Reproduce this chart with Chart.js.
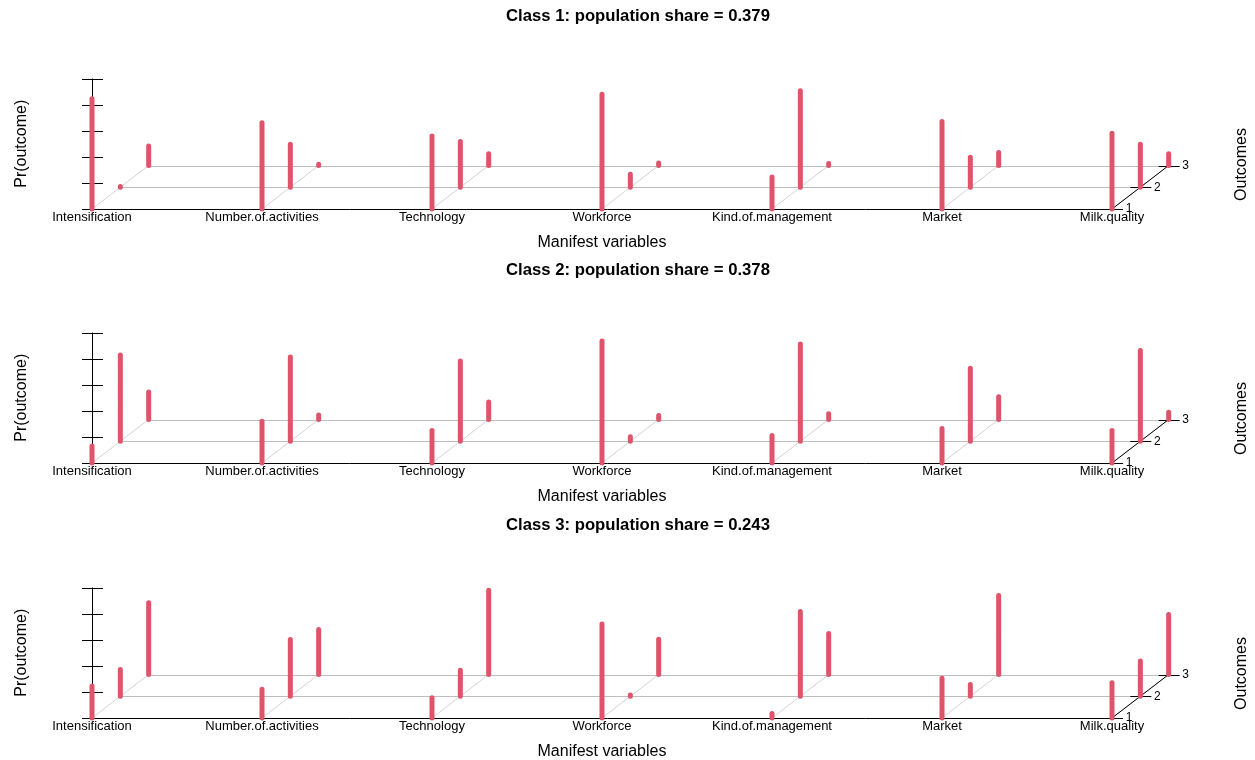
<!DOCTYPE html>
<html>
<head>
<meta charset="utf-8">
<title>Class-conditional outcome probabilities</title>
<script src="https://cdn.jsdelivr.net/npm/chart.js@4/dist/chart.umd.min.js"></script>
<style>
  body { margin: 0; background: #fff; overflow: hidden; }
  canvas.panel { position: absolute; left: 0; }
</style>
</head>
<body>
<canvas id="class1" class="panel" width="1255" height="254" style="top:0px"></canvas>
<canvas id="class2" class="panel" width="1255" height="254" style="top:254px"></canvas>
<canvas id="class3" class="panel" width="1255" height="254" style="top:509px"></canvas>
<script>
const variables = ["Intensification", "Number.of.activities", "Technology", "Workforce",
  "Kind.of.management", "Market", "Milk.quality"];
const outcomes = ["1", "2", "3"];
const shares = ["0.379", "0.378", "0.243"];
const prTicks = [0, 0.2, 0.4, 0.6, 0.8, 1];

// Pr(outcome = 1, 2, 3) for each manifest variable
const class1 = [[0.845, 0.005, 0.15], [0.66, 0.33, 0.01], [0.56, 0.35, 0.09], [0.88, 0.10, 0.02],
  [0.245, 0.74, 0.015], [0.67, 0.23, 0.10], [0.58, 0.33, 0.09]];
const class2 = [[0.13, 0.66, 0.21], [0.32, 0.645, 0.035], [0.25, 0.615, 0.135], [0.935, 0.035, 0.03],
  [0.21, 0.745, 0.045], [0.265, 0.56, 0.175], [0.25, 0.695, 0.055]];
const class3 = [[0.245, 0.205, 0.55], [0.22, 0.435, 0.345], [0.155, 0.2, 0.645], [0.72, 0.01, 0.27],
  [0.035, 0.65, 0.315], [0.305, 0.09, 0.605], [0.27, 0.27, 0.46]];

const depth = 1 / 6; // offset of each outcome row, in axis units
const font = "'Liberation Sans', Arial, sans-serif";
Chart.defaults.font.family = font;

function crisp(v) {
  return Math.round(v) + 0.5;
}

function seg(ctx, x1, y1, x2, y2) {
  ctx.beginPath();
  ctx.moveTo(x1, y1);
  ctx.lineTo(x2, y2);
  ctx.stroke();
}

const frame3d = {
  id: "frame3d",
  beforeDatasetsDraw(chart) {
    const { ctx } = chart;
    const px = (v) => chart.scales.x.getPixelForValue(v);
    const py = (v) => chart.scales.y.getPixelForValue(v);
    const last = variables.length - 1;
    const top = outcomes.length - 1;
    ctx.save();
    ctx.lineWidth = 1;

    ctx.strokeStyle = "#BEBEBE";
    for (let k = 1; k < outcomes.length; k++) {
      seg(ctx, px(k * depth), crisp(py(k * depth)), px(last + k * depth), crisp(py(k * depth)));
    }
    ctx.strokeStyle = "#D3D3D3";
    variables.forEach((v, i) => seg(ctx, px(i), py(0), px(i + top * depth), py(top * depth)));

    ctx.strokeStyle = "#000";
    seg(ctx, px(0), crisp(py(0)), px(last) + 11, crisp(py(0)));
    seg(ctx, crisp(px(0)), py(0), crisp(px(0)), py(1));
    prTicks.forEach((t) => seg(ctx, px(0) - 10, crisp(py(t)), px(0) + 11, crisp(py(t))));
    seg(ctx, px(last), py(0), px(last + top * depth), py(top * depth));
    outcomes.forEach((o, k) => {
      const ox = px(last + k * depth);
      const oy = crisp(py(k * depth));
      seg(ctx, ox - 10, oy, ox + 11, oy);
    });
    ctx.restore();
  },
  afterDraw(chart, args, opts) {
    const { ctx } = chart;
    const px = (v) => chart.scales.x.getPixelForValue(v);
    const py = (v) => chart.scales.y.getPixelForValue(v);
    const last = variables.length - 1;
    ctx.save();
    ctx.fillStyle = "#000";

    ctx.font = "bold 16.7px " + font;
    ctx.textAlign = "center";
    ctx.textBaseline = "alphabetic";
    ctx.fillText(opts.title, 638, 21);

    ctx.font = "13px " + font;
    variables.forEach((v, i) => ctx.fillText(v, px(i), py(0) + 12));

    ctx.font = "12px " + font;
    ctx.textBaseline = "middle";
    outcomes.forEach((o, k) => ctx.fillText(o, px(last + k * depth) + 17, py(k * depth)));

    ctx.font = "16px " + font;
    ctx.textBaseline = "alphabetic";
    ctx.fillText("Manifest variables", 602, py(0) + 37.5);

    ctx.translate(25.5, (py(0) + py(1)) / 2);
    ctx.rotate(-Math.PI / 2);
    ctx.fillText("Pr(outcome)", 0, 0);
    ctx.restore();

    ctx.save();
    ctx.font = "16px " + font;
    ctx.fillStyle = "#000";
    ctx.textAlign = "center";
    ctx.translate(1245.5, py(2 * depth) - 1);
    ctx.rotate(-Math.PI / 2);
    ctx.fillText("Outcomes", 0, 0);
    ctx.restore();
  },
};

function drawClass(canvasId, classNo, probs) {
  const points = [];
  probs.forEach((row, i) => {
    row.forEach((p, k) => {
      const x = i + k * depth;
      points.push({ x: x, y: k * depth });
      points.push({ x: x, y: k * depth + p });
      points.push({ x: x, y: null });
    });
  });

  new Chart(document.getElementById(canvasId), {
    type: "line",
    data: {
      datasets: [
        {
          label: "Pr(outcome)",
          data: points,
          borderColor: "#DF536B",
          borderWidth: 5,
          borderCapStyle: "round",
          pointRadius: 0,
          spanGaps: false,
          tension: 0,
          clip: false,
        },
      ],
    },
    options: {
      responsive: false,
      animation: false,
      layout: { padding: { top: 39.35, bottom: 45, left: 24, right: 41 } },
      scales: {
        x: { type: "linear", display: false, min: -0.4, max: 6.6 },
        y: { type: "linear", display: false, min: 0, max: 1.3 },
      },
      plugins: {
        legend: { display: false },
        tooltip: { enabled: false },
        frame3d: { title: "Class " + classNo + ": population share = " + shares[classNo - 1] },
      },
    },
    plugins: [frame3d],
  });
}

drawClass("class1", 1, class1);
drawClass("class2", 2, class2);
drawClass("class3", 3, class3);
</script>
</body>
</html>
